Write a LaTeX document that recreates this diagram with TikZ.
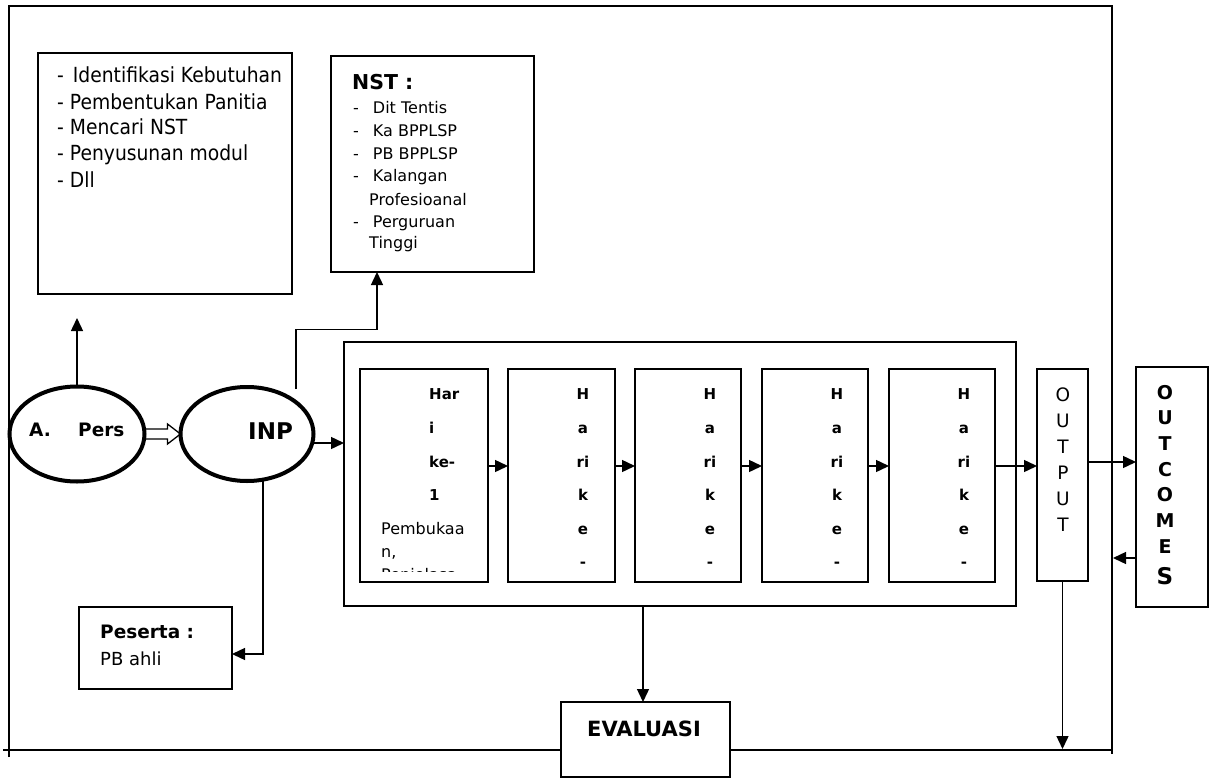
\documentclass[tikz,border=0pt]{standalone}
\usepackage{fontspec}
\setmainfont{DejaVu Sans}
\newfontfamily\cond{DejaVu Sans}[FakeStretch=0.9]
\usetikzlibrary{arrows.meta,shapes.geometric}
\newcommand{\fsz}[1]{\fontsize{#1}{#1}\selectfont}
\begin{document}
\begin{tikzpicture}[x=1pt,y=-1pt,
  box/.style={draw,line width=1.5pt,rectangle,inner sep=0pt,outer sep=0pt},
  oval/.style={draw,ellipse,line width=4pt,inner sep=0pt,outer sep=0pt},
  conn/.style={line width=1.4pt,-{Triangle[length=13pt,width=12pt]}},
  txt/.style={inner sep=0pt,anchor=base west},
  ctxt/.style={inner sep=0pt,anchor=base},
  frame/.style={line width=2pt}
]
\useasboundingbox (0,0) rectangle (1209,778);

% outer frame
\draw[frame] (9,757) -- (9,6) -- (1112,6) -- (1112,754);
\draw[line width=1.8pt] (3,750) -- (1112,750);

% boxes
\node[box,minimum width=254pt,minimum height=241pt] (prep) at (165,173.5) {};
\node[box,minimum width=203pt,minimum height=216pt] (nst) at (432.5,164) {};
\node[oval,minimum width=135pt,minimum height=95pt] (apers) at (77,434) {};
\node[oval,minimum width=133pt,minimum height=94pt] (inp) at (247,434) {};
\node[box,minimum width=672pt,minimum height=264pt] (hbox) at (680,474) {};
\node[box,minimum width=128pt,minimum height=213pt] (d1) at (424,475.5) {};
\node[box,minimum width=107pt,minimum height=213pt] (d2) at (561.5,475.5) {};
\node[box,minimum width=106pt,minimum height=213pt] (d3) at (688,475.5) {};
\node[box,minimum width=106pt,minimum height=213pt] (d4) at (815,475.5) {};
\node[box,minimum width=106pt,minimum height=213pt] (d5) at (942,475.5) {};
\node[box,minimum width=51pt,minimum height=212pt] (out) at (1062.5,475) {};
\node[box,minimum width=72pt,minimum height=240pt] (outc) at (1172,487) {};
\node[box,minimum width=153pt,minimum height=82pt] (pes) at (155.5,648) {};
\node[box,fill=white,minimum width=169pt,minimum height=75pt] (eval) at (645.5,739.5) {};

% texts: preparation box
\node[txt,font=\cond\fsz{20.8}] at (57,83) {-\hspace{9pt}Identifikasi Kebutuhan};
\node[txt,font=\cond\fsz{20.8}] at (57,110) {- Pembentukan Panitia};
\node[txt,font=\cond\fsz{20.8}] at (57,135) {- Mencari NST};
\node[txt,font=\cond\fsz{20.8}] at (57,161) {- Penyusunan modul};
\node[txt,font=\cond\fsz{20.8}] at (57,187) {- Dll};

% NST box
\node[txt,font=\bfseries\fsz{20.5}] at (352,90) {NST :};
\node[txt,font=\fsz{16}] at (353,114) {-\hspace{14pt}Dit Tentis};
\node[txt,font=\fsz{16}] at (353,137) {-\hspace{14pt}Ka BPPLSP};
\node[txt,font=\fsz{16}] at (353,160) {-\hspace{14pt}PB BPPLSP};
\node[txt,font=\fsz{16}] at (353,182) {-\hspace{14pt}Kalangan};
\node[txt,font=\fsz{16}] at (369,205) {Profesioanal};
\node[txt,font=\fsz{16}] at (353,227) {-\hspace{14pt}Perguruan};
\node[txt,font=\fsz{16}] at (369,248) {Tinggi};

% ellipses
\node[txt,font=\bfseries\fsz{18.5}] at (29,436) {A.};
\node[txt,font=\bfseries\fsz{18.5}] at (78,436) {Pers};
\node[txt,font=\bfseries\fsz{23}] at (248,439) {INP};

% day 1
\node[txt,font=\bfseries\fsz{15}] at (429,399) {Har};
\node[txt,font=\bfseries\fsz{15}] at (429,433) {i};
\node[txt,font=\bfseries\fsz{15}] at (429,467) {ke-};
\node[txt,font=\bfseries\fsz{15}] at (429,500) {1};
\begin{scope}
\clip (361,370) rectangle (487,571);
\node[txt,font=\fsz{16}] at (381,534) {Pembukaa};
\node[txt,font=\fsz{16}] at (381,557) {n,};
\node[txt,font=\fsz{16}] at (381,580) {Penjelasa};
\end{scope}

% days 2-5
\foreach \x in {583,710,837,964}{
  \foreach \l/\y in {H/399,a/433,ri/467,k/500,e/534,-/567}{
    \node[ctxt,font=\bfseries\fsz{15}] at (\x,\y) {\l};
  }
}

% OUTPUT
\foreach \l/\y in {O/401,U/427,T/453,P/479,U/505,T/531}{
  \node[ctxt,font=\fsz{18.5}] at (1063,\y) {\l};
}
% OUTCOMES
\foreach \l/\y in {O/399,U/424,T/450,C/476,O/501,M/527,E/553}{
  \node[ctxt,font=\bfseries\fsz{19}] at (1165,\y) {\l};
}
\node[ctxt,font=\bfseries\fsz{23}] at (1165,584) {S};

% EVALUASI, Peserta
\node[ctxt,font=\bfseries\fsz{21}] at (644,736) {EVALUASI};
\node[txt,font=\bfseries\fsz{18.5}] at (100,638) {Peserta :};
\node[txt,font=\fsz{18}] at (100,665) {PB ahli};

% connectors
\coordinate (tipA) at (77,318);
\draw[conn] (apers.north) -- (tipA);

\draw[line width=1.3pt] ([yshift=5pt]apers.east) -- ++(23,0) -- ++(0,-5) -- (inp.west)
  -- ++(-13,10) -- ++(0,-5) -- ([yshift=-5pt]apers.east);

\coordinate (inpTop) at ([shift={(0,-13)}]inp.33);
\draw[conn] (inpTop) -- ++(0,-60) -| ([xshift=-55.5pt]nst.south);

\coordinate (inpR) at ([yshift=-9pt]inp.east);
\draw[conn] (inpR) -- (inpR -| hbox.west);

\coordinate (inpB) at ([xshift=16pt]inp.south);
\draw[conn] (inpB) |- ([yshift=-6pt]pes.east);

\draw[conn] ([yshift=9.5pt]d1.east) -- ([yshift=9.5pt]d2.west);
\draw[conn] ([yshift=9.5pt]d2.east) -- ([yshift=9.5pt]d3.west);
\draw[conn] ([yshift=9.5pt]d3.east) -- ([yshift=9.5pt]d4.west);
\draw[conn] ([yshift=9.5pt]d4.east) -- ([yshift=9.5pt]d5.west);
\draw[conn] ([yshift=9.5pt]d5.east) -- ([yshift=9pt]out.west);

\coordinate (outR) at ([yshift=13pt]out.east);
\draw[conn] (outR) -- (outR -| outc.west);

\coordinate (frameR) at (1113,558);
\draw[conn] ([yshift=-71pt]outc.west) -- (frameR);

\coordinate (outDown) at (1062.5,749);
\draw[conn] (out.south) -- (outDown);

\coordinate (hb) at ([xshift=-37pt]hbox.south);
\draw[conn] (hb) -- (hb |- eval.north);
\end{tikzpicture}
\end{document}
